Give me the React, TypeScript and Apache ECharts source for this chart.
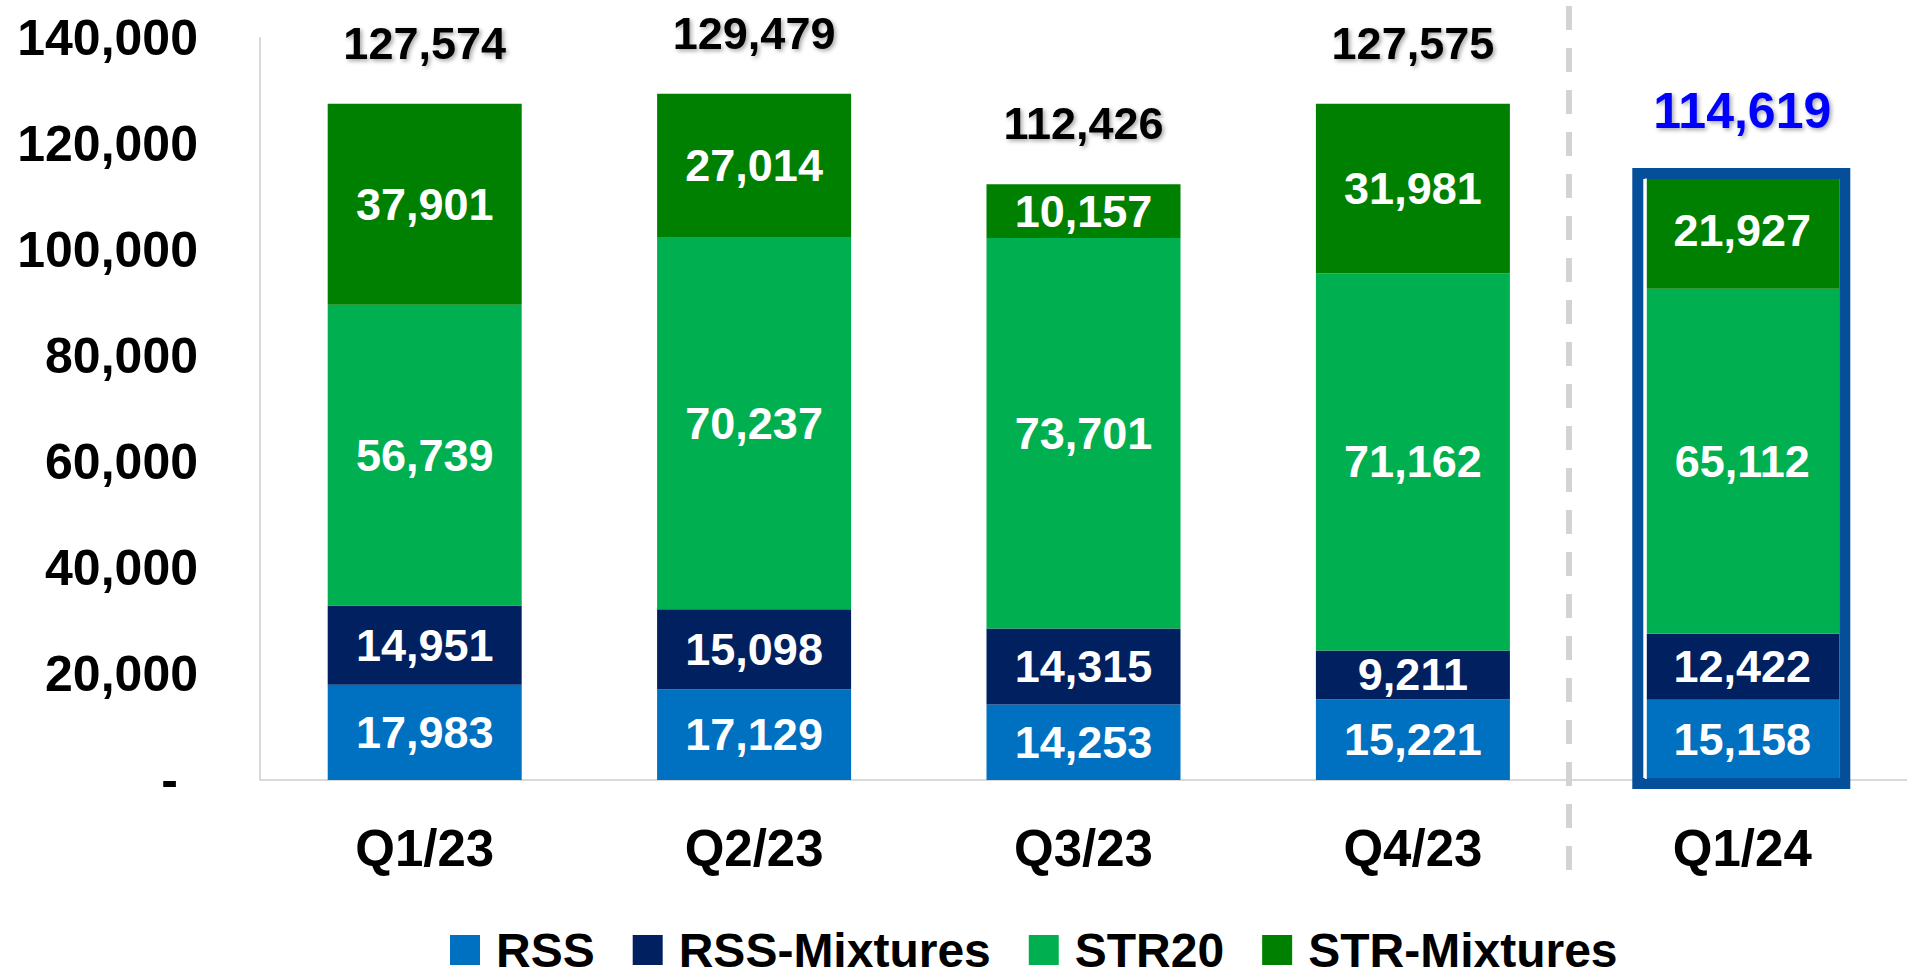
import React, { useEffect, useRef } from "react";
import * as echarts from "echarts";

const categories = ["Q1/23", "Q2/23", "Q3/23", "Q4/23", "Q1/24"];
const rss = [17983, 17129, 14253, 15221, 15158];
const rssMixtures = [14951, 15098, 14315, 9211, 12422];
const str20 = [56739, 70237, 73701, 71162, 65112];
const strMixtures = [37901, 27014, 10157, 31981, 21927];
const totals = [127574, 129479, 112426, 127575, 114619];
const seriesNames = ["RSS", "RSS-Mixtures", "STR20", "STR-Mixtures"];
const seriesColors = ["#0070C0", "#002060", "#00B050", "#008000"];
const highlightIndex = 4;

const FONT = "Liberation Sans, Arial, sans-serif";
const fmt = (v: number) => v.toLocaleString("en-US");

export default function App() {
  const ref = useRef<HTMLDivElement>(null);
  useEffect(() => {
    if (!ref.current) return;
    const chart = echarts.init(ref.current, undefined, { renderer: "svg" });
    const values = [rss, rssMixtures, str20, strMixtures];
    const BAR_W = 194;
    const barSeries = values.map((data, i) => ({
      name: seriesNames[i],
      type: "bar",
      stack: "total",
      barWidth: BAR_W,
      data,
      itemStyle: { color: seriesColors[i] },
      label: {
        show: true,
        position: "inside",
        color: "#ffffff",
        fontFamily: FONT,
        fontWeight: "bold",
        fontSize: 45,
        formatter: (p: any) => fmt(p.value),
      },
    }));
    const totalSeries = {
      name: "Total",
      type: "bar",
      stack: "total",
      barWidth: BAR_W,
      data: totals.map((t, i) => ({
        value: 0,
        label:
          i === highlightIndex
            ? { color: "#0000FF", distance: 37, fontSize: 50 }
            : undefined,
      })),
      itemStyle: { color: "transparent" },
      label: {
        show: true,
        position: "top",
        distance: 38,
        color: "#000000",
        fontFamily: FONT,
        fontWeight: "bold",
        fontSize: 45,
        textShadowColor: "rgba(0,0,0,0.35)",
        textShadowBlur: 4,
        textShadowOffsetX: 2,
        textShadowOffsetY: 2,
        formatter: (p: any) => fmt(totals[p.dataIndex]),
      },
      z: 3,
    };
    const borderSeries = {
      name: "Highlight",
      type: "custom",
      data: [[highlightIndex, totals[highlightIndex]]],
      encode: { x: 0, y: 1 },
      z: 10,
      silent: true,
      renderItem: (params: any, api: any) => {
        const top = api.coord([api.value(0), api.value(1)]);
        const bottom = api.coord([api.value(0), 0]);
        const cx = top[0];
        const half = BAR_W / 2;
        return {
          type: "group",
          children: [
            {
              type: "rect",
              shape: {
                x: cx - half - 7.5,
                y: top[1] + 1,
                width: BAR_W + 13,
                height: bottom[1] - top[1] + 2.5,
              },
              style: { fill: "none", stroke: "#044E9A", lineWidth: 11 },
            },
            {
              type: "line",
              shape: { x1: cx - half + 0.5, y1: top[1] + 6, x2: cx - half + 0.5, y2: bottom[1] - 1 },
              style: { stroke: "#ffffff", lineWidth: 2 },
            },
          ],
        };
      },
    };
    chart.setOption({
      animation: false,
      backgroundColor: "#ffffff",
      grid: { left: 260, top: 38, width: 1650, height: 742, containLabel: false },
      legend: {
        data: seriesNames,
        left: 450,
        top: 926,
        padding: 0,
        icon: "rect",
        itemWidth: 30,
        itemHeight: 30,
        itemGap: 38,
        textStyle: {
          fontFamily: FONT,
          fontWeight: "bold",
          fontSize: 48,
          lineHeight: 46,
          color: "#000000",
          padding: [0, 0, 0, 11],
        },
      },
      xAxis: {
        type: "category",
        data: categories,
        axisLine: { show: true, lineStyle: { color: "#d9d9d9", width: 2 } },
        axisTick: { show: false },
        axisLabel: {
          margin: 43,
          color: "#000000",
          fontFamily: FONT,
          fontWeight: "bold",
          fontSize: 51,
        },
      },
      yAxis: {
        type: "value",
        min: 0,
        max: 140000,
        interval: 20000,
        splitLine: { show: false },
        axisTick: { show: false },
        axisLine: { show: true, lineStyle: { color: "#d9d9d9", width: 2 } },
        axisLabel: {
          margin: 62,
          color: "#000000",
          fontFamily: FONT,
          fontWeight: "bold",
          fontSize: 50,
          formatter: (v: number) => (v === 0 ? "{d|-}" : fmt(v)),
          rich: {
            d: {
              fontFamily: FONT,
              fontWeight: "bold",
              fontSize: 50,
              color: "#000000",
              padding: [0, 20, 0, 0],
            },
          },
        },
      },
      graphic: [
        {
          type: "line",
          shape: { x1: 1569, y1: 6, x2: 1569, y2: 870 },
          style: { stroke: "#d3d3d3", lineWidth: 6, lineDash: [24, 18] },
          z: 1,
        },
      ],
      series: [...barSeries, totalSeries, borderSeries],
    });
    return () => chart.dispose();
  }, []);
  return (
    <div
      ref={ref}
      style={{ position: "fixed", left: 0, top: 0, width: 1907, height: 980, background: "#fff" }}
    />
  );
}
